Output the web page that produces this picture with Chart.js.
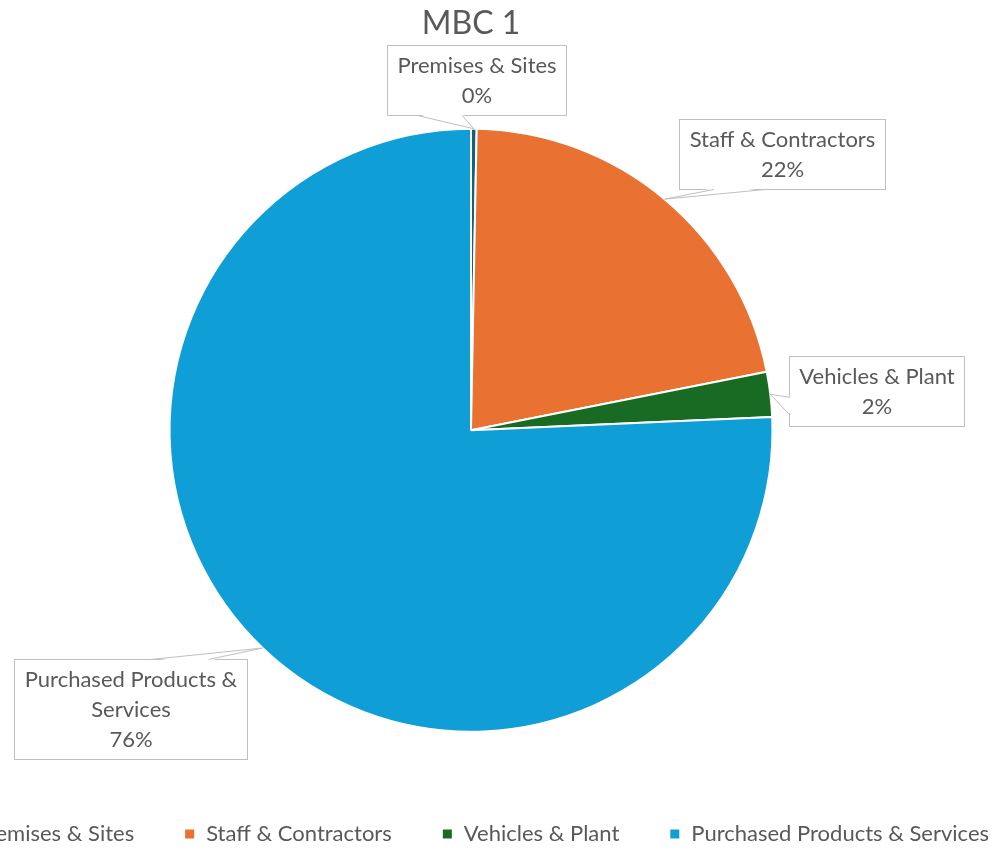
<!DOCTYPE html>
<html>
<head>
<meta charset="utf-8">
<script src="https://cdn.jsdelivr.net/npm/chart.js@4.4.1/dist/chart.umd.min.js"></script>
<style>
  html, body { margin: 0; padding: 0; background: #fff; overflow: hidden; }
  #wrap { position: absolute; left: -159px; top: 0; width: 1260px; height: 850px; }
</style>
</head>
<body>
<div id="wrap"><canvas id="pie" width="1260" height="850"></canvas></div>
<script>
const categories = ['Premises & Sites', 'Staff & Contractors', 'Vehicles & Plant', 'Purchased Products & Services'];
const shares = [0.3, 21.6, 2.4, 75.7];
const colours = ['#156082', '#E97132', '#196B24', '#0F9ED5'];
// callout box centres, in units of the pie radius from the pie centre
const calloutPos = [[0.018, -1.161], [1.03, -0.916], [1.346, -0.129], [-1.129, 0.924]];

const textColour = '#595959';
const fontFamily = 'Lato, "Open Sans", sans-serif';

function wrapText(ctx, text, maxW) {
  const words = text.split(' ');
  const lines = [];
  let line = '';
  words.forEach(w => {
    const test = line ? line + ' ' + w : w;
    if (line && ctx.measureText(test).width > maxW) {
      lines.push(line);
      line = w;
    } else {
      line = test;
    }
  });
  if (line) lines.push(line);
  return lines;
}

const callouts = {
  id: 'callouts',
  afterDatasetsDraw(chart) {
    const ctx = chart.ctx;
    const meta = chart.getDatasetMeta(0);
    const total = shares.reduce((a, b) => a + b, 0);
    ctx.save();
    ctx.font = '22px ' + fontFamily;
    meta.data.forEach((arc, i) => {
      const p = arc.getProps(['x', 'y', 'startAngle', 'endAngle', 'outerRadius'], true);
      const mid = (p.startAngle + p.endAngle) / 2;
      const tx = p.x + Math.cos(mid) * p.outerRadius;
      const ty = p.y + Math.sin(mid) * p.outerRadius;

      const lines = wrapText(ctx, categories[i], 240);
      lines.push(Math.round(shares[i] / total * 100) + '%');
      const w = Math.round(Math.max(...lines.map(l => ctx.measureText(l).width)) + 20);
      const h = lines.length * 30 + 10;
      const cx = p.x + calloutPos[i][0] * p.outerRadius;
      const cy = p.y + calloutPos[i][1] * p.outerRadius;
      const left = Math.round(cx - w / 2) + 0.5;
      const top = Math.round(cy - h / 2) + 0.5;

      ctx.fillStyle = '#ffffff';
      ctx.strokeStyle = '#bfbfbf';
      ctx.lineWidth = 1;
      ctx.fillRect(left, top, w, h);
      ctx.strokeRect(left, top, w, h);

      // wedge pointing at the slice
      const dx = tx - cx, dy = ty - cy;
      let b1, b2, inX = 0, inY = 0;
      if (Math.abs(dy) * w > Math.abs(dx) * h) {
        const ey = dy > 0 ? top + h : top;
        inY = dy > 0 ? -1.5 : 1.5;
        const f = dx < 0 ? [1 / 6, 5 / 12] : [7 / 12, 5 / 6];
        b1 = [left + w * f[0], ey];
        b2 = [left + w * f[1], ey];
      } else {
        const ex = dx > 0 ? left + w : left;
        inX = dx > 0 ? -1.5 : 1.5;
        const f = dy < 0 ? [1 / 6, 5 / 12] : [7 / 12, 5 / 6];
        b1 = [ex, top + h * f[0]];
        b2 = [ex, top + h * f[1]];
      }
      ctx.beginPath();
      ctx.moveTo(b1[0] + inX, b1[1] + inY);
      ctx.lineTo(tx, ty);
      ctx.lineTo(b2[0] + inX, b2[1] + inY);
      ctx.closePath();
      ctx.fill();
      ctx.beginPath();
      ctx.moveTo(b1[0], b1[1]);
      ctx.lineTo(tx, ty);
      ctx.lineTo(b2[0], b2[1]);
      ctx.stroke();

      ctx.fillStyle = textColour;
      ctx.textAlign = 'center';
      ctx.textBaseline = 'middle';
      lines.forEach((l, k) => {
        ctx.fillText(l, left + w / 2, top + 5 + 15 + k * 30);
      });
    });
    ctx.restore();
  }
};

new Chart(document.getElementById('pie'), {
  type: 'pie',
  data: {
    labels: categories,
    datasets: [{
      data: shares,
      backgroundColor: colours,
      borderColor: '#ffffff',
      borderWidth: 2
    }]
  },
  options: {
    responsive: false,
    animation: false,
    radius: '88.2%',
    layout: { padding: { bottom: -5 } },
    plugins: {
      title: {
        display: true,
        text: 'MBC 1',
        color: textColour,
        font: { family: fontFamily, size: 32, weight: 'normal' },
        padding: { top: 4, bottom: 45 }
      },
      legend: {
        position: 'bottom',
        labels: {
          color: textColour,
          font: { family: fontFamily, size: 22 },
          boxWidth: 11,
          boxHeight: 11,
          padding: 50
        }
      },
      tooltip: { enabled: false }
    }
  },
  plugins: [callouts]
});
</script>
</body>
</html>
